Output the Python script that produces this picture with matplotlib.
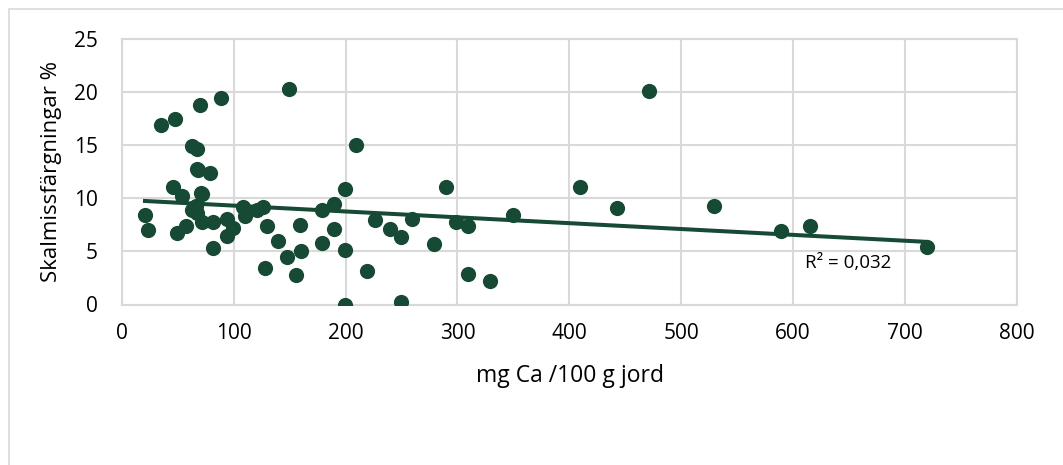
import numpy as np
import matplotlib.pyplot as plt
from matplotlib.patches import Rectangle

# mg Ca / 100 g jord vs skalmissfärgningar %
ca = [20.8, 23.8, 34.8, 45.5, 47.6, 49, 53.6, 57.4, 62.5, 62.5, 66, 67, 67.5, 67.5,
      68.4, 70.3, 70.5, 72, 71.4, 78.8, 81.8, 81.8, 88.4, 93.75, 93.75, 99.6,
      108, 110, 120.5, 126.4, 128, 129.5, 139.8, 147.3, 149.6, 156, 159.2, 159.8,
      179.1, 179.1, 189.6, 189.6, 199.7, 199.7, 199.7, 209.5, 219.6, 226.4,
      239.6, 249.6, 249.6, 259.8, 279.1, 289.6, 299, 309.5, 309.5, 329.5,
      349.6, 409.5, 442.5, 471.4, 529.5, 589.3, 615.4, 719.6]
skal = [8.45, 7.0, 16.9, 11.1, 17.5, 6.7, 10.2, 7.4, 14.9, 8.9, 9.3, 8.6, 14.7, 12.8,
        12.7, 18.8, 10.55, 10.4, 7.8, 12.4, 7.8, 5.3, 19.5, 8.1, 6.5, 7.2,
        9.2, 8.3, 8.9, 9.15, 3.45, 7.4, 6.0, 4.5, 20.3, 2.75, 7.5, 5.0,
        8.9, 5.8, 9.45, 7.1, 10.9, 5.1, 0.0, 15.0, 3.2, 8.0,
        7.1, 6.4, 0.2, 8.1, 5.7, 11.1, 7.8, 7.4, 2.9, 2.2,
        8.4, 11.1, 9.1, 20.1, 9.3, 6.9, 7.4, 5.4]

green = '#174a35'
x = np.array(ca)
y = np.array(skal)
k, m = np.polyfit(x, y, 1)

plt.rcParams['font.family'] = ['Open Sans', 'DejaVu Sans']
fig = plt.figure(figsize=(10.63, 4.65), dpi=100)
fig.patches.append(Rectangle((9 / 1063, -0.1), 1.1, 1 - 9 / 465 + 0.1,
                             transform=fig.transFigure, fill=False,
                             edgecolor='#d9d9d9', linewidth=1.2))
ax = fig.add_axes([121.7 / 1063, 1 - 304.5 / 465, (1017 - 121.7) / 1063, 265.2 / 465])

ax.scatter(x, y, s=120, color=green, zorder=3, linewidths=0)
xs = np.array([x.min(), x.max()])
ax.plot(xs, k * xs + m, color=green, linewidth=2.9, zorder=2)
ax.text(611, 3.95, 'R² = 0,032', fontsize=13.5, va='center', ha='left')

ax.set_xlim(0, 800)
ax.set_ylim(0, 25)
ax.set_xticks(range(0, 801, 100))
ax.set_yticks(range(0, 26, 5))
ax.grid(True, color='#d9d9d9', linewidth=1.5)
ax.set_axisbelow(True)
for s in ax.spines.values():
    s.set_color('#d9d9d9')
    s.set_linewidth(1.5)
ax.tick_params(length=0, labelsize=15)
ax.tick_params(axis='x', pad=13)
ax.tick_params(axis='y', pad=17)
fig.text(570 / 1063, 1 - 376 / 465, 'mg Ca /100 g jord', fontsize=16.5,
         ha='center', va='center')
fig.text(52 / 1063, 1 - 172 / 465, 'Skalmissfärgningar %', fontsize=16,
         rotation=90, ha='center', va='center')

fig.savefig('out.png', dpi=100)
